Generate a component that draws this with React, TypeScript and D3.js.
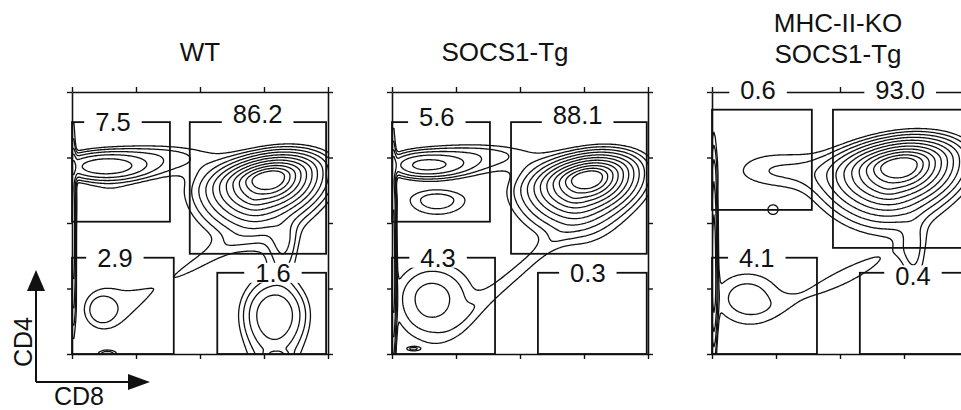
import React, { useRef, useEffect } from "react";
import * as d3 from "d3";

// panel titles (panel 3 has two lines)
const titles = [["WT"], ["SOCS1-Tg"], ["MHC-II-KO", "SOCS1-Tg"]];

// gate percentages: [CD4 SP, DP, DN, CD8 SP]
const gateValues = [
  ["7.5", "86.2", "2.9", "1.6"],
  ["5.6", "88.1", "4.3", "0.3"],
  ["0.6", "93.0", "4.1", "0.4"],
];

// gate boxes in log decades: [x0, x1, y0, y1]
const gatesWT = [
  [0, 1.53, 2.02, 3.54],
  [1.84, 3.97, 1.53, 3.54],
  [0, 1.59, 0, 1.47],
  [2.27, 3.97, 0, 1.24],
];
const gatesTg = [
  [0, 1.53, 2.02, 3.54],
  [1.86, 3.98, 1.53, 3.54],
  [0, 1.61, 0, 1.47],
  [2.28, 3.98, 0, 1.24],
];
const gatesKO = [
  [0, 1.56, 2.2, 3.73],
  [1.89, 4.0, 1.62, 3.73],
  [0, 1.64, 0, 1.47],
  [2.31, 4.0, 0, 1.24],
];

// label centres (decades) for each gate
const labelPosWT = [[0.64, 3.55], [2.9, 3.66], [0.67, 1.47], [3.14, 1.24]];
const labelPosTg = [[0.7, 3.62], [2.9, 3.65], [0.72, 1.47], [3.06, 1.24]];
const labelPosKO = [[0.72, 4.04], [2.94, 4.04], [0.7, 1.47], [3.14, 1.2]];

// populations:
// [amplitude, cx, cy, sdLeft, sdRight, sdDown, sdUp, angle, power]
const popsWT = [
  [1, 3.08, 2.68, 0.22, 0.2, 0.13, 0.09, 10, 1],
  [0.05, 2.85, 2.38, 0.33, 0.3, 0.3, 0.15, 0, 1],
  [0.008, 3.3, 1.7, 0.2, 0.2, 0.45, 0.3, 0, 2],
  [0.008, 1.3, 3.02, 0.9, 0.9, 0.28, 0.18, 0, 2],
  [0.03, 0.5, 2.86, 0.6, 0.6, 0.18, 0.18, 0, 2],
  [0.004, 0.6, 2.35, 0.5, 0.5, 0.35, 0.3, 0, 2],
  [0.0065, 0.45, 0.67, 0.25, 0.25, 0.25, 0.25, 0, 2],
  [0.004, 0.8, 0.8, 0.7, 0.6, 0.7, 0.6, 0, 2],
  [0.008, 0.55, 0.0, 0.15, 0.15, 0.06, 0.06, 0, 2],
  [0.004, 1.9, 1.35, 0.9, 0.9, 0.18, 0.18, 30, 2],
  [0.018, 3.17, 0.62, 0.42, 0.42, 0.45, 0.42, 0, 2],
  [0.007, 3.15, 0.0, 0.45, 0.45, 0.5, 0.95, 0, 2],
  [0.01, 3.2, 0.0, 0.15, 0.15, 0.05, 0.05, 0, 2],
  [0.02, 0.02, 1.8, 0.04, 0.04, 1.2, 1.4, 0, 2],
];
const popsTg = [
  [1, 3.06, 2.68, 0.21, 0.19, 0.12, 0.09, 10, 1],
  [0.05, 2.85, 2.4, 0.32, 0.3, 0.28, 0.15, 0, 1],
  [0.025, 0.52, 2.88, 0.5, 0.6, 0.17, 0.17, 0, 2],
  [0.008, 1.3, 3.04, 0.9, 0.9, 0.25, 0.18, 0, 2],
  [0.008, 0.7, 2.35, 0.5, 0.5, 0.25, 0.18, 0, 2],
  [0.008, 0.6, 0.85, 0.5, 0.55, 0.55, 0.45, 0, 2],
  [0.004, 0.7, 0.8, 0.8, 0.8, 0.8, 0.8, 0, 2],
  [0.0045, 1.9, 1.2, 1.0, 1.0, 0.16, 0.16, 40, 2],
  [0.006, 0.33, 0.08, 0.1, 0.1, 0.03, 0.03, 0, 2],
  [0.03, 0.02, 1.5, 0.04, 0.04, 1.4, 1.4, 0, 2],
];
const popsKO = [
  [1, 2.94, 2.87, 0.25, 0.22, 0.14, 0.1, 8, 1],
  [0.05, 2.75, 2.55, 0.35, 0.3, 0.28, 0.15, 0, 1],
  [0.006, 1.0, 2.8, 0.8, 0.9, 0.3, 0.35, 0, 2],
  [0.0055, 0.95, 2.2, 0.12, 0.12, 0.11, 0.11, 0, 2],
  [0.008, 0.55, 0.85, 0.6, 0.6, 0.45, 0.45, 0, 2],
  [0.005, 2.0, 1.15, 1.0, 1.0, 0.2, 0.2, 25, 2],
  [0.006, 3.15, 1.5, 0.2, 0.2, 0.5, 0.5, 0, 2],
  [0.03, 0.03, 1.4, 0.05, 0.05, 1.2, 1.4, 0, 2],
];

// contour levels
const levels = [0.0041, 0.0063, 0.0097, 0.0149, 0.023, 0.035, 0.054, 0.083, 0.127, 0.196, 0.301];

const panels = [
  { gates: gatesWT, labels: labelPosWT, pops: popsWT },
  { gates: gatesTg, labels: labelPosTg, pops: popsTg },
  { gates: gatesKO, labels: labelPosKO, pops: popsKO },
];

const W = 961;
const H = 410;
const FONT = "Arial, 'Liberation Sans', sans-serif";

function density(pops: number[][], x: number, y: number) {
  let s = 0;
  for (const [a, cx, cy, sl, sr, sd, su, ang, pw] of pops) {
    const t = (ang * Math.PI) / 180;
    const dx = x - cx;
    const dy = y - cy;
    const u = dx * Math.cos(t) + dy * Math.sin(t);
    const v = -dx * Math.sin(t) + dy * Math.cos(t);
    const uu = u / (u < 0 ? sl : sr);
    const vv = v / (v < 0 ? sd : su);
    const r = Math.sqrt(uu * uu + vv * vv);
    s += a * Math.exp(-Math.pow(r, pw));
  }
  return s;
}

const App = () => {
  const ref = useRef<SVGSVGElement>(null);

  useEffect(() => {
    const svg = d3.select(ref.current);
    svg.selectAll("*").remove();

    const panelW = 256;
    const top = 92;
    const bottom = 354;
    const lefts = [72, 392, 712];

    const step = 0.02;
    const g0 = -0.15;
    const n = Math.round(4.3 / step) + 1;

    panels.forEach((p, k) => {
      const left = lefts[k];
      const x = d3.scaleLinear().domain([0, 4]).range([left, left + panelW]);
      const y = d3.scaleLinear().domain([0, 4]).range([bottom, top]);
      const g = svg.append("g");

      const clipId = "clip" + k;
      g.append("clipPath").attr("id", clipId)
        .append("rect")
        .attr("x", left).attr("y", top)
        .attr("width", panelW).attr("height", bottom - top);

      // density grid
      const values = new Float64Array(n * n);
      for (let j = 0; j < n; j++) {
        for (let i = 0; i < n; i++) {
          values[i + j * n] = density(p.pops, g0 + i * step, g0 + j * step);
        }
      }
      const contours = d3.contours().size([n, n]).thresholds(levels)(values as any);
      const proj = d3.geoTransform({
        point: function (gx, gy) {
          this.stream.point(x(g0 + (gx - 0.5) * step), y(g0 + (gy - 0.5) * step));
        },
      });
      const path = d3.geoPath(proj);

      g.append("g")
        .attr("clip-path", `url(#${clipId})`)
        .selectAll("path")
        .data(contours)
        .enter()
        .append("path")
        .attr("d", path as any)
        .attr("fill", "none")
        .attr("stroke", "#111")
        .attr("stroke-width", 1.3)
        .attr("stroke-linejoin", "round");

      // frame with outward ticks
      const tv = [0, 1, 2, 3, 4];
      const axes = [
        [d3.axisBottom(x), `translate(0,${bottom})`],
        [d3.axisTop(x), `translate(0,${top})`],
        [d3.axisLeft(y), `translate(${left},0)`],
        [d3.axisRight(y), `translate(${left + panelW},0)`],
      ] as const;
      axes.forEach(([ax, tr]) => {
        const a = g.append("g").attr("transform", tr)
          .call((ax as any).tickValues(tv).tickSize(5).tickSizeOuter(0).tickFormat(() => ""));
        a.select(".domain").attr("stroke", "#111").attr("stroke-width", 1.6);
        a.selectAll(".tick line").attr("stroke", "#111").attr("stroke-width", 1.4);
      });

      // gates
      g.append("g")
        .selectAll("rect")
        .data(p.gates)
        .enter()
        .append("rect")
        .attr("x", (d) => x(d[0]))
        .attr("y", (d) => y(d[3]))
        .attr("width", (d) => x(d[1]) - x(d[0]))
        .attr("height", (d) => y(d[2]) - y(d[3]))
        .attr("fill", "none")
        .attr("stroke", "#111")
        .attr("stroke-width", 1.8);

      // gate labels on a white patch that breaks the line
      p.labels.forEach((pos, i) => {
        const lg = g.append("g");
        const bg = lg.append("rect").attr("fill", "#fff");
        const t = lg.append("text")
          .attr("x", x(pos[0]))
          .attr("y", y(pos[1]))
          .attr("dy", "0.36em")
          .attr("text-anchor", "middle")
          .attr("font-family", FONT)
          .attr("font-size", 25.5)
          .attr("fill", "#111")
          .text(gateValues[k][i]);
        const w = (t.node() as SVGTextElement).getComputedTextLength();
        bg.attr("x", x(pos[0]) - w / 2 - 11)
          .attr("y", y(pos[1]) - 10)
          .attr("width", w + 22)
          .attr("height", 20);
      });
    });

    // titles
    const titleX = [200, 505, 838];
    const titleY = [[61], [61], [32, 63]];
    titles.forEach((lines, k) => {
      lines.forEach((s, i) => {
        svg.append("text")
          .attr("x", titleX[k])
          .attr("y", titleY[k][i])
          .attr("text-anchor", "middle")
          .attr("font-family", FONT)
          .attr("font-size", 26)
          .attr("fill", "#111")
          .text(s);
      });
    });

    // CD4 / CD8 orientation arrows
    const ox = 36;
    const oy = 382;
    const arr = svg.append("g").attr("fill", "#111").attr("stroke", "#111");
    arr.append("line").attr("x1", ox).attr("y1", oy).attr("x2", ox).attr("y2", 288).attr("stroke-width", 2);
    arr.append("line").attr("x1", ox).attr("y1", oy).attr("x2", 130).attr("y2", oy).attr("stroke-width", 2);
    arr.append("path").attr("stroke", "none").attr("d", `M${ox},270L${ox - 9},291L${ox + 9},291Z`);
    arr.append("path").attr("stroke", "none").attr("d", `M150,${oy}L128,${oy - 8}L128,${oy + 8}Z`);
    svg.append("text")
      .attr("transform", "translate(32,342) rotate(-90)")
      .attr("text-anchor", "middle")
      .attr("font-family", FONT)
      .attr("font-size", 25)
      .attr("fill", "#111")
      .text("CD4");
    svg.append("text")
      .attr("x", 79)
      .attr("y", 405)
      .attr("text-anchor", "middle")
      .attr("font-family", FONT)
      .attr("font-size", 25)
      .attr("fill", "#111")
      .text("CD8");
  }, []);

  return (
    <svg
      ref={ref}
      width={W}
      height={H}
      style={{ position: "absolute", left: 0, top: 0, background: "#fff" }}
    />
  );
};

export default App;
